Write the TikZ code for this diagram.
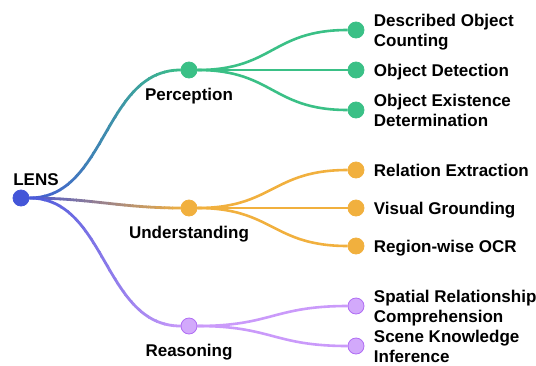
\documentclass[tikz,border=0pt]{standalone}
\usepackage{fontspec}
\setmainfont{Liberation Sans}
\usetikzlibrary{positioning,backgrounds}
\definecolor{lensblue}{RGB}{68,86,216}
\definecolor{percgreen}{RGB}{58,192,134}
\definecolor{undorange}{RGB}{241,176,62}
\definecolor{reaslight}{RGB}{202,154,250}
\definecolor{reasdark}{RGB}{176,108,244}
\tikzstyle{topicdot}=[circle, draw, line width=0.8pt, inner sep=0pt, minimum size=16pt]
\tikzstyle{greendot}=[draw=percgreen, fill=percgreen]
\tikzstyle{orangedot}=[draw=undorange, fill=undorange]
\tikzstyle{purpledot}=[draw=reasdark, fill=reaslight, fill opacity=0.85]
\tikzstyle{mainline}=[line width=2.8pt, out=0, in=180]
\tikzstyle{leafline}=[line width=2.6pt, out=0, in=180, looseness=1.25]
\newcommand{\topic}{\node[topicdot]}

\begin{document}
\begin{tikzpicture}[x=1pt, y=-1pt, label distance=6pt,
    every label/.style={font=\fontsize{17}{20}\selectfont\bfseries, align=left, text depth=0pt, text=black, opacity=1}]
    \useasboundingbox (0,0) rectangle (536,365);
    % root
    \topic (lens) at (21,198) [draw=lensblue, fill=lensblue, label={[xshift=15pt, yshift=-5pt]above:LENS}]{};
    % categories
    \topic (perc) at (189,70) [greendot, label=below:Perception]{};
    \topic (und) at (189,208) [orangedot, label=below:Understanding]{};
    \topic (reas) at (189,326) [purpledot, label=below:Reasoning]{};
    % tasks
    \topic (dcount) at (356,30) [greendot, label={right:Described Object\\Counting}]{};
    \topic (odet) at (356,70) [greendot, label=right:Object Detection]{};
    \topic (oexist) at (356,110) [greendot, label={right:Object Existence\\Determination}]{};
    \topic (relex) at (356,170) [orangedot, label=right:Relation Extraction]{};
    \topic (vground) at (356,208) [orangedot, label=right:Visual Grounding]{};
    \topic (rocr) at (356,246) [orangedot, label=right:Region-wise OCR]{};
    \topic (spatial) at (356,306) [purpledot, label={right:Spatial Relationship\\Comprehension}]{};
    \topic (scene) at (356,346) [purpledot, label={right:Scene Knowledge\\Inference}]{};
    \begin{scope}[on background layer]
        \foreach \cat/\col in {perc/percgreen, und/undorange, reas/reaslight}
            \foreach \i in {0,...,21} {
                \pgfmathtruncatemacro{\mix}{min(100,5*\i)}
                \begin{scope}
                    \clip (20+8*\i,0) rectangle (29+8*\i,365);
                    \draw[mainline, \col!\mix!lensblue] (lens) to (\cat);
                \end{scope}
            }
        \path[leafline, percgreen]
            (perc) edge (dcount)
            (perc) edge (odet)
            (perc) edge (oexist)
        ;
        \path[leafline, undorange]
            (und) edge (relex)
            (und) edge (vground)
            (und) edge (rocr)
        ;
        \path[leafline, reaslight]
            (reas) edge (spatial)
            (reas) edge (scene)
        ;
    \end{scope}
\end{tikzpicture}
\end{document}
